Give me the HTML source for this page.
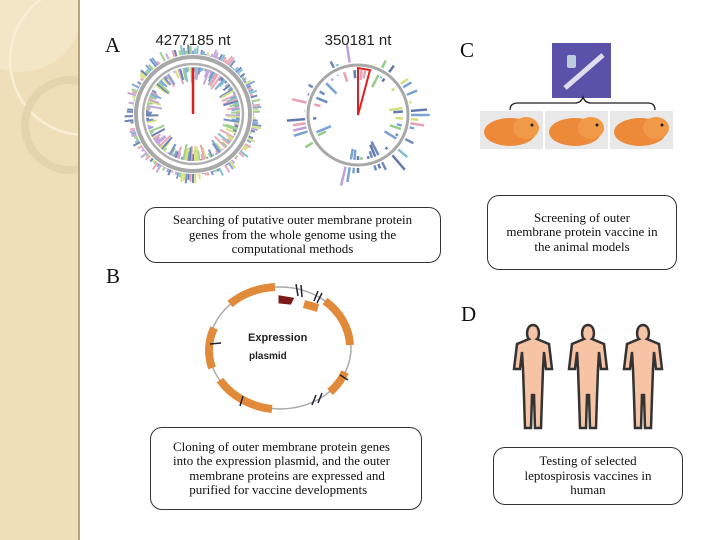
<!DOCTYPE html>
<html><head><meta charset="utf-8"><style>
body{margin:0;width:720px;height:540px;background:#fff;position:relative;overflow:hidden;font-family:"Liberation Serif",serif}
.box{position:absolute;border:1.3px solid #333;border-radius:12px;background:#fff;text-align:center;font-size:13px;line-height:14.5px;color:#111;box-sizing:border-box;display:flex;align-items:center;justify-content:center}
.lbl{position:absolute;font-size:21px;color:#111}
</style></head><body>
<svg width="720" height="540" style="position:absolute;left:0;top:0">
<defs><clipPath id="cl"><rect x="0" y="0" width="78" height="540"/></clipPath></defs>
<rect x="0" y="0" width="78" height="540" fill="#efdfb9"/>
<g clip-path="url(#cl)">
<circle cx="20" cy="10" r="62" fill="#f4e8cc" opacity="0.7"/>
<circle cx="85" cy="60" r="75" fill="none" stroke="#f8eed6" stroke-width="2.5"/>
<circle cx="70" cy="125" r="45" fill="none" stroke="#e4d4ad" stroke-width="8"/>
</g>
<rect x="78" y="0" width="2" height="540" fill="#b8a47c"/>
<g id="g1" opacity="0.75"></g><g id="g2" opacity="0.8"></g>
<circle cx="193" cy="114" r="57" fill="none" stroke="#a8a8a8" stroke-width="4"/>
<circle cx="193" cy="114" r="50" fill="none" stroke="#b0b0b0" stroke-width="2.5"/>
<line x1="193" y1="114" x2="193" y2="68" stroke="#e02020" stroke-width="2.5"/>
<circle cx="358" cy="115" r="50" fill="none" stroke="#a8a8a8" stroke-width="3"/>
<path d="M358 115 L358 68 L370 70 Z" fill="none" stroke="#e02020" stroke-width="2"/>
<text x="193" y="45" font-family="Liberation Sans" font-size="15" text-anchor="middle" fill="#222">4277185 nt</text>
<text x="358" y="45" font-family="Liberation Sans" font-size="15" text-anchor="middle" fill="#222">350181 nt</text>
<rect x="552" y="43" width="59" height="55" fill="#5a52a8"/>
<line x1="565" y1="88" x2="603" y2="55" stroke="#dde" stroke-width="5"/>
<rect x="567" y="55" width="9" height="13" fill="#bcd" rx="2"/>
<path d="M510 110 Q510 103 518 103 L575 103 Q581 103 583 97 Q585 103 591 103 L648 103 Q655 103 655 110" fill="none" stroke="#222" stroke-width="1.3"/>
<g id="ham"></g>
<rect x="202" y="278" width="152" height="140" fill="#fff"/>
<ellipse cx="280" cy="348" rx="71" ry="61" fill="none" stroke="#aaa" stroke-width="1.5"/>
<g fill="none" stroke="#e08a3a" stroke-width="8">
<path d="M275 287 A71 61 0 0 0 230 304"/>
<path d="M214 328 A71 61 0 0 0 212 368"/>
<path d="M220 380 A71 61 0 0 0 272 409"/>
<path d="M325 301 A71 61 0 0 1 350 345"/>
<path d="M345 372 A71 61 0 0 1 330 392"/>
<path d="M304 304 L318 308"/>
</g>
<path d="M280 297 L292 299 L290 303 L280 302Z" fill="#7a1a1a" stroke="#7a1a1a" stroke-width="3"/>
<text x="248" y="341" font-family="Liberation Sans" font-size="11" font-weight="bold" fill="#222">Expression</text>
<text x="249" y="359" font-family="Liberation Sans" font-size="10" font-weight="bold" fill="#222">plasmid</text>
<g stroke="#223" stroke-width="1.5"><line x1="296" y1="284" x2="298" y2="296"/><line x1="301" y1="285" x2="302" y2="297"/><line x1="318" y1="291" x2="314" y2="301"/><line x1="322" y1="293" x2="317" y2="303"/><line x1="340" y1="375" x2="348" y2="380"/><line x1="312" y1="405" x2="316" y2="395"/><line x1="318" y1="403" x2="322" y2="393"/><line x1="210" y1="344" x2="221" y2="343"/><line x1="240" y1="406" x2="243" y2="396"/></g>
<g id="hum"></g>
</svg>
<div class="lbl" style="left:105px;top:33px">A</div>
<div class="lbl" style="left:460px;top:38px">C</div>
<div class="lbl" style="left:106px;top:264px">B</div>
<div class="lbl" style="left:461px;top:302px">D</div>
<div class="box" style="left:144px;top:207px;width:297px;height:56px">Searching of putative outer membrane protein<br>genes from the whole genome using the<br>computational methods</div>
<div class="box" style="left:487px;top:195px;width:190px;height:75px">Screening of outer<br>membrane protein vaccine in<br>the animal models</div>
<div class="box" style="left:150px;top:427px;width:272px;height:83px;justify-content:flex-start;text-align:left;padding-left:22px">Cloning of outer membrane protein genes<br>into the expression plasmid, and the outer<br>&nbsp;&nbsp;&nbsp;&nbsp;&nbsp;membrane proteins are expressed and<br>&nbsp;&nbsp;&nbsp;&nbsp;&nbsp;purified for vaccine developments</div>
<div class="box" style="left:493px;top:447px;width:190px;height:58px">Testing of selected<br>leptospirosis vaccines in<br>human</div>
<script>
var NS="http://www.w3.org/2000/svg";
var cols=["#4a6fb0","#5a8cc8","#7fbf6a","#c8d85a","#b08ad0","#e08aa0","#60b0c0","#3d5a9a"];
function rnd(s){return function(){s=(s*9301+49297)%233280;return s/233280;}}
function spikes(id,cx,cy,r0,r1,r2,n,seed,w,sp){var g=document.getElementById(id),R=rnd(seed);
for(var i=0;i<n;i++){if(R()<sp)continue;var a=i/n*Math.PI*2,c=cols[Math.floor(R()*cols.length)];
[[r1,r1+R()*r2],[r0-R()*(r0*0.35),r0]].forEach(function(p,k){if(id=="g2"&&R()<0.4)return;var l=document.createElementNS(NS,"line");
l.setAttribute("x1",cx+Math.cos(a)*p[0]);l.setAttribute("y1",cy+Math.sin(a)*p[0]);l.setAttribute("x2",cx+Math.cos(a)*p[1]);l.setAttribute("y2",cy+Math.sin(a)*p[1]);
l.setAttribute("stroke",c);l.setAttribute("stroke-width",w);g.appendChild(l);});}}
spikes("g1",193,114,47,60,10,180,7,2,0.05);
spikes("g2",358,115,45,53,20,80,3,2.5,0.3);
var h=document.getElementById("ham");
[480,545,610].forEach(function(x){h.innerHTML+='<rect x="'+x+'" y="111" width="63" height="38" fill="#e8e8e8"/><ellipse cx="'+(x+30)+'" cy="132" rx="26" ry="14" fill="#ec8a3a"/><ellipse cx="'+(x+46)+'" cy="128" rx="13" ry="11" fill="#f09a48"/><circle cx="'+(x+52)+'" cy="125" r="1.5" fill="#222"/>';});
var hu=document.getElementById("hum");
[533,588,643].forEach(function(x){hu.innerHTML+='<path transform="translate('+x+',325)" d="M0 0 C-7 0 -7 12 -4 14 L-16 19 L-19 44 L-13 44 L-11 27 L-10 44 L-9 72 L-8 103 L-2 103 L-1 70 L1 70 L2 103 L8 103 L9 72 L10 44 L11 27 L13 44 L19 44 L16 19 L4 14 C7 12 7 0 0 0Z" fill="#f6c3a5" stroke="#333" stroke-width="2.5"/>';});
</script>
</body></html>
